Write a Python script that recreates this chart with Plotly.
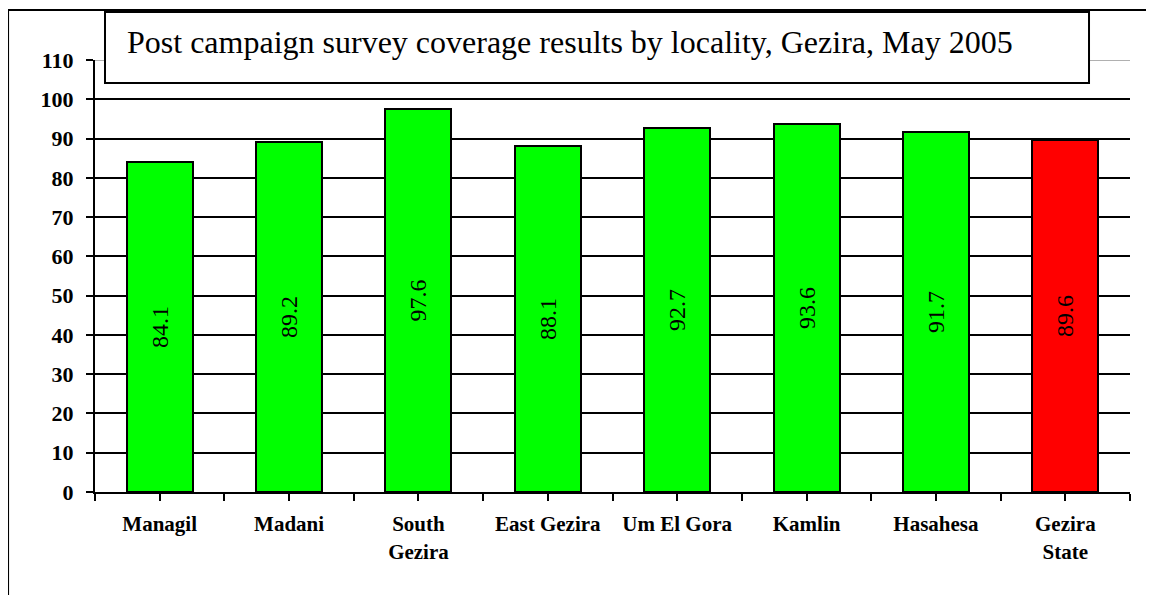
import plotly.graph_objects as go

categories = ["Managil", "Madani", "South<br>Gezira", "East Gezira", "Um El Gora",
              "Kamlin", "Hasahesa", "Gezira<br>State"]
coverage = [84.1, 89.2, 97.6, 88.1, 92.7, 93.6, 91.7, 89.6]
bar_colors = ["#00FF00"] * 7 + ["#FF0000"]
title_text = "Post campaign survey coverage results by locality, Gezira, May 2005"
y_ticks = list(range(0, 111, 10))

FONT = "Liberation Serif"
x_pos = list(range(len(categories)))

fig = go.Figure()
fig.add_trace(go.Bar(
    x=x_pos, y=coverage,
    marker=dict(color=bar_colors, line=dict(color="black", width=2)),
    width=0.51,
    text=[f"{v:.1f}" for v in coverage],
    textposition="inside", insidetextanchor="middle", textangle=-90,
    textfont=dict(family=FONT, size=24, color="black"),
    constraintext="none",
    hoverinfo="skip",
))

tickvals = []
ticktext = []
for i, c in enumerate(categories):
    tickvals += [i - 0.5, i]
    ticktext += ["", "<b>" + c + "</b>"]
tickvals.append(len(categories) - 0.5)
ticktext.append("")

fig.update_layout(
    width=1154, height=595,
    margin=dict(l=87, r=32, t=52, b=111),
    paper_bgcolor="white", plot_bgcolor="white",
    showlegend=False,
    bargap=0,
    font=dict(family=FONT),
    xaxis=dict(
        range=[-0.5, len(categories) - 0.5],
        tickvals=tickvals, ticktext=ticktext,
        ticks="outside", ticklen=7, tickwidth=2, tickcolor="black",
        showline=True, linecolor="black", linewidth=2,
        showgrid=False, zeroline=False,
        tickfont=dict(family=FONT, size=21, color="black"),
        ticklabelstandoff=5,
    ),
    yaxis=dict(
        range=[0, 110],
        tickvals=y_ticks,
        ticktext=["<b>%d</b>" % t for t in y_ticks],
        ticks="outside", ticklen=7, tickwidth=2, tickcolor="black",
        showline=True, linecolor="black", linewidth=2,
        showgrid=True, gridcolor="black", gridwidth=2,
        zeroline=False,
        tickfont=dict(family=FONT, size=22, color="black"),
        ticklabelstandoff=8,
    ),
)

shapes = []
# light top gridline at 110
shapes.append(dict(type="line", xref="paper", yref="y", x0=0, x1=1, y0=110, y1=110,
                   line=dict(color="#b0b0b0", width=2), layer="above"))
# outer frame
shapes.append(dict(type="rect", xref="paper", yref="paper",
                   x0=-0.084, x1=1.2, y0=-0.35, y1=1.1157,
                   line=dict(color="black", width=2), fillcolor="rgba(0,0,0,0)", layer="above"))
# title box
shapes.append(dict(type="rect", xref="paper", yref="paper",
                   x0=0.00966, x1=0.9604, y0=0.9468, y1=1.1111,
                   line=dict(color="black", width=2), fillcolor="white", layer="above"))
fig.update_layout(shapes=shapes)

fig.add_annotation(
    text=title_text, xref="paper", yref="paper",
    x=0.0290, y=1.042, xanchor="left", yanchor="middle", showarrow=False,
    font=dict(family=FONT, size=32, color="black"),
)

fig.write_html("out.html")
